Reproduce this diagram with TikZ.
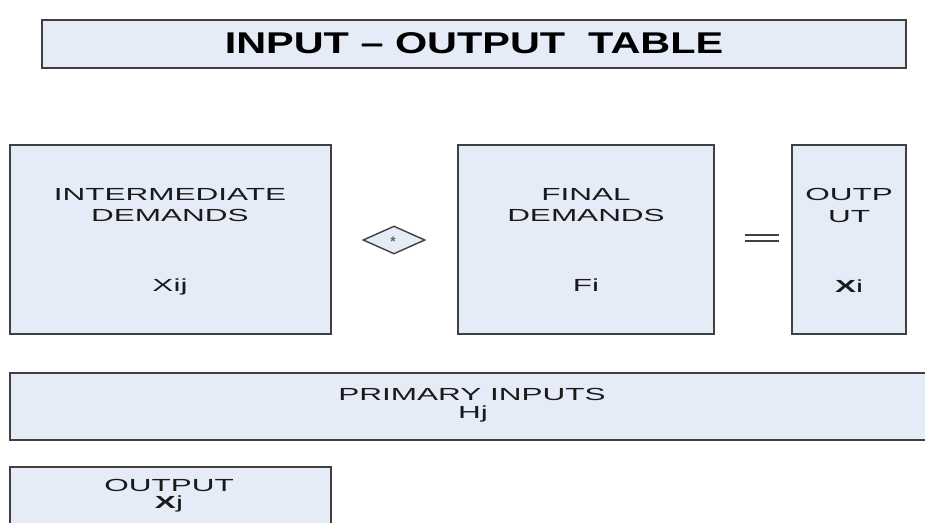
\documentclass[tikz,border=0pt]{standalone}
\usepackage{fontspec}
\setmainfont{Liberation Sans}
\newfontfamily\bodyfont[FakeStretch=1.8]{Liberation Sans}
\newfontfamily\headfont[FakeStretch=1.38]{Liberation Sans}
\usetikzlibrary{shapes.geometric}
\definecolor{boxfill}{HTML}{E6ECF7}
\definecolor{boxline}{HTML}{404040}
\definecolor{inkcol}{HTML}{1A1A1A}
\begin{document}
\begin{tikzpicture}[x=1pt,y=-1pt,
  panel/.style={rectangle, draw=boxline, fill=boxfill, line width=1.9pt, inner sep=0pt},
  lbl/.style={inner sep=0pt, anchor=base, text=inkcol, font=\bodyfont\fontsize{17.5}{20}\selectfont},
  headlbl/.style={inner sep=0pt, anchor=base, text=black, font=\headfont\bfseries\fontsize{30}{34}\selectfont},
  opsign/.style={draw=boxline, line width=1.6pt}
]
\useasboundingbox (0,0) rectangle (925,522);

% title bar
\node[panel, minimum width=864pt, minimum height=48pt] (title) at (474,44) {};
\node[headlbl] (titletext) at (474,53) {INPUT – OUTPUT\ \ TABLE};

% intermediate demands block
\node[panel, minimum width=321pt, minimum height=189pt] (inter) at (170.5,239.5) {};
\node[lbl] (interA) at (170,200) {INTERMEDIATE};
\node[lbl] (interB) at (170,221) {DEMANDS};
\node[lbl] (interC) at (170,291) {Xij};

% operator between the blocks
\node[diamond, draw=boxline, fill=boxfill, line width=1.4pt, inner sep=0pt,
      minimum width=62pt, minimum height=28pt] (plus) at (394,240) {};
\node[font=\fontsize{14}{14}\selectfont\bfseries, text=black!60, inner sep=0pt] (plusmark) at (393,242) {*};

% final demands block
\node[panel, minimum width=256pt, minimum height=189pt] (final) at (586,239.5) {};
\node[lbl] (finalA) at (586,200) {FINAL};
\node[lbl] (finalB) at (586,221) {DEMANDS};
\node[lbl] (finalC) at (586,291) {Fi};

% equals sign
\coordinate (eqA) at (745,235);
\coordinate (eqB) at (779,235);
\coordinate (eqC) at (745,241);
\coordinate (eqD) at (779,241);
\draw[opsign] (eqA) -- (eqB);
\draw[opsign] (eqC) -- (eqD);

% output column
\node[panel, minimum width=114pt, minimum height=189pt] (outcol) at (849,239.5) {};
\node[lbl] (outA) at (849,200) {OUTP};
\node[lbl] (outB) at (849,222) {UT};
\node[lbl] (outC) at (849,292) {\bfseries X\mdseries i};

% primary inputs row
\node[panel, minimum width=930pt, minimum height=67pt] (primary) at (475,406.5) {};
\node[lbl] (primA) at (472,400) {PRIMARY INPUTS};
\node[lbl] (primB) at (473,418) {Hj};

% output row
\node[panel, minimum width=321pt, minimum height=80pt] (outrow) at (170.5,507) {};
\node[lbl] (orowA) at (169,491) {OUTPUT};
\node[lbl] (orowB) at (169,508) {\bfseries X\mdseries j};
\end{tikzpicture}
\end{document}
